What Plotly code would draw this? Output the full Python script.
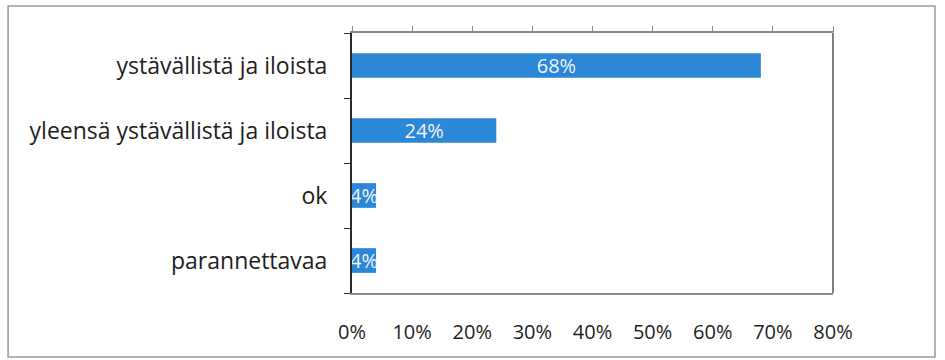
import plotly.graph_objects as go

# Survey answers and their shares
categories = ["ystävällistä ja iloista", "yleensä ystävällistä ja iloista", "ok", "parannettavaa"]
shares = [0.68, 0.24, 0.04, 0.04]
tick_values = [0, 0.1, 0.2, 0.3, 0.4, 0.5, 0.6, 0.7, 0.8]
tick_labels = ["0%", "10%", "20%", "30%", "40%", "50%", "60%", "70%", "80%"]

bar_color = "#2c87d6"
font_family = "Open Sans, Noto Sans, sans-serif"

fig = go.Figure()
fig.add_trace(go.Bar(
    x=shares,
    y=categories,
    orientation="h",
    marker=dict(color=bar_color, line=dict(width=0)),
    width=0.38,
    text=[f"{round(v * 100)}%" for v in shares],
    textposition="inside",
    insidetextanchor="middle",
    textangle=0,
    constraintext="none",
    textfont=dict(color="#eef4ff", size=20, family=font_family),
    cliponaxis=True,
    hoverinfo="skip",
    showlegend=False,
))
# invisible trace carrying the top tick axis
fig.add_trace(go.Scatter(
    x=[0, 0.8], y=[categories[0], categories[0]], xaxis="x2",
    mode="markers", marker=dict(opacity=0), hoverinfo="skip", showlegend=False,
))

fig.update_layout(
    width=945, height=360,
    margin=dict(l=352, r=112, t=33, b=67),
    paper_bgcolor="white", plot_bgcolor="white",
    font=dict(family=font_family, color="#1e1e1e"),
    xaxis=dict(
        range=[0, 0.8], tickvals=tick_values, ticktext=tick_labels,
        showgrid=False, zeroline=False,
        showline=True, linecolor="#8a8a8a", linewidth=1.5, mirror=True,
        ticks="", ticklabelstandoff=20,
        tickfont=dict(size=20, color="#1e1e1e"),
    ),
    xaxis2=dict(
        overlaying="x", side="top", matches="x", range=[0, 0.8],
        tickvals=tick_values, showticklabels=False,
        ticks="outside", ticklen=6, tickcolor="#8a8a8a", tickwidth=1,
        showgrid=False, zeroline=False, showline=False,
    ),
    yaxis=dict(
        categoryorder="array", categoryarray=categories[::-1],
        showgrid=False, zeroline=False,
        showline=True, linecolor="#2a2a2a", linewidth=2, mirror=False,
        ticks="outside", tickson="boundaries", ticklen=6, tickcolor="#2a2a2a",
        ticklabelstandoff=18,
        tickfont=dict(size=23, color="#1e1e1e"),
    ),
    bargap=0.62,
    shapes=[
        # right border of the plot area
        dict(type="line", xref="paper", yref="paper", x0=1, x1=1, y0=0, y1=1,
             line=dict(color="#555555", width=1.5)),
        # outer chart frame
        dict(type="rect", xref="paper", yref="paper",
             x0=-0.715, x1=1.212, y0=-0.246, y1=1.104,
             line=dict(color="#9a9a9a", width=1.5), fillcolor="rgba(0,0,0,0)"),
    ],
)

fig.write_html("out.html")
